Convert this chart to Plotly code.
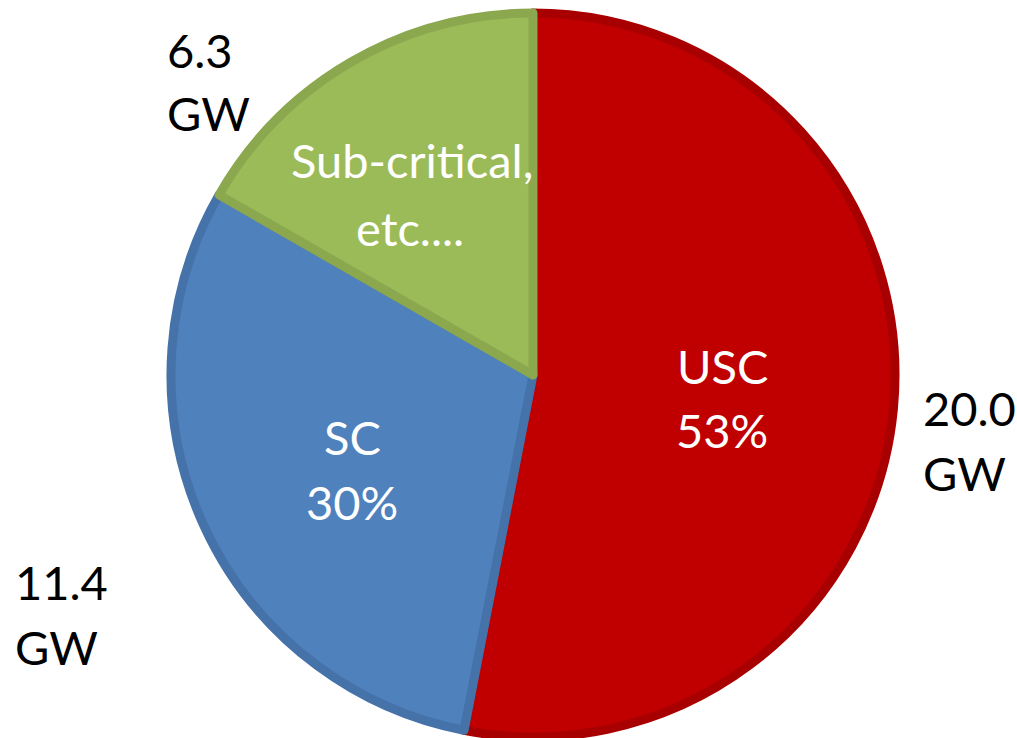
import plotly.graph_objects as go

# Capacity by boiler technology
categories = ["USC", "SC", "Sub-critical,<br>etc...."]
capacity_gw = [20.0, 11.4, 6.3]
share_labels = ["53%", "30%", None]

fill_colors = ["#C00000", "#4F81BD", "#9BBB59"]
edge_colors = ["#A80000", "#4672AA", "#8BA84F"]

W, H = 1017, 738
cx, cy, r = 533, 375, 362

fig = go.Figure(go.Pie(
    values=capacity_gw,
    labels=categories,
    sort=False,
    direction="clockwise",
    rotation=0,
    textinfo="none",
    hoverinfo="label+value+percent",
    marker=dict(colors=fill_colors, line=dict(color=edge_colors, width=9)),
    domain=dict(x=[(cx - r) / W, (cx + r) / W], y=[(H - cy - r) / H, (H - cy + r) / H]),
    showlegend=False,
))

FONT = "Lato"
SIZE = 47

def px(x, y):
    return x / W, 1 - y / H

# inner labels (white), one line per annotation
inner_lines = [
    ("USC", 722, 366), (share_labels[0], 722, 430),
    ("SC", 352, 437), (share_labels[1], 352, 502),
    ("Sub-critical,", 412, 160), ("etc....", 410, 228),
]
annotations = []
for text, x, y in inner_lines:
    ax, ay = px(x, y)
    annotations.append(dict(x=ax, y=ay, xref="paper", yref="paper", text=text,
                            showarrow=False, xanchor="center", yanchor="middle",
                            font=dict(family=FONT, size=SIZE, color="white")))

# outer value labels (black), left aligned
outer_pos = [(921, 408, 473), (13, 582, 647), (165, 50, 113)]
for val, (x, y1, y2) in zip(capacity_gw, outer_pos):
    for text, y in ((f"{val:.1f}", y1), ("GW", y2)):
        ax, ay = px(x, y)
        annotations.append(dict(x=ax, y=ay, xref="paper", yref="paper", text=text,
                                showarrow=False, xanchor="left", yanchor="middle",
                                font=dict(family=FONT, size=SIZE, color="black")))

fig.update_layout(
    width=W, height=H,
    margin=dict(l=0, r=0, t=0, b=0),
    paper_bgcolor="white", plot_bgcolor="white",
    annotations=annotations,
)

fig.write_html("out.html")
